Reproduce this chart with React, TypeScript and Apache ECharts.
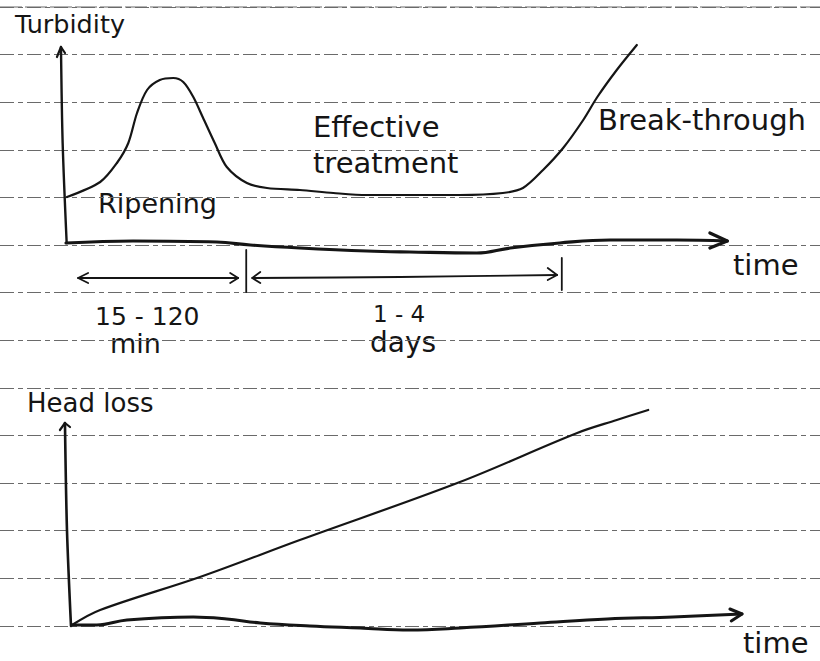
import React, { useEffect, useRef } from "react";
import * as echarts from "echarts";

// Ruled paper: printed lines are numbered 0..13 from the bottom one upward
const ruledLineFirst = 0;
const ruledLineLast = 13;

// --- Top sketch: turbidity vs time (relative time units, relative turbidity) ---
const turbidityTime = [0.15, 5.1, 7.6, 9.3, 10.6, 12.1, 14.0, 16.0, 17.5, 19.0, 20.4, 22.2, 24.0, 27.0, 30.0, 34.9, 39.9, 44.9, 51.3, 58.8, 65.2, 68.2, 71.2, 74.2, 77.2, 79.3, 82.2, 85.2];
const turbidityValue = [23, 30.5, 40, 50, 65, 76.5, 81.5, 82.5, 80.5, 73, 63, 50, 38, 30, 27.5, 26.5, 25, 24, 24, 24, 25, 27.5, 36.5, 47.5, 61.5, 73, 86.5, 99];

// hand-drawn axes of the top sketch
const turbidityAxisTime = [0, 10, 22.5, 27.5, 34.9, 44.9, 51.3, 61.3, 66.3, 73.7, 81.2, 91.2, 98.7];
const turbidityAxisValue = [0, 1, 0.5, -1, -2.5, -4, -4.5, -5, -2.5, 0, 1.5, 1.5, 1];
const turbidityYAxisTime = [0.1, -0.5, -0.75];
const turbidityYAxisValue = [0, 50, 98];
const turbidityYArrow = [[-1.35, 93], [-0.75, 98], [-0.15, 95]];
const turbidityXArrow = [[96.1, 5], [98.7, 1], [96.1, -2.5]];

// duration brackets under the top sketch
const ripeningSpan = [[1.8, -17.5], [25.7, -17.5]];
const ripeningLeftHead = [[3.3, -15], [1.8, -17.5], [3.3, -20]];
const ripeningRightHead = [[24.5, -15], [25.7, -17.5], [24.5, -20]];
const ripeningEndMark = [[26.9, -3.5], [26.9, -24.5]];
const treatmentSpan = [[27.8, -17.5], [49.9, -17], [73.3, -16]];
const treatmentLeftHead = [[29.0, -14.5], [27.8, -17.5], [29.0, -20]];
const treatmentRightHead = [[71.9, -12.5], [73.3, -16], [71.9, -18.5]];
const treatmentEndMark = [[74.0, -7.5], [74.0, -23.5]];

// --- Bottom sketch: head loss vs time ---
const headLossTime = [0, 4.2, 19.1, 34.0, 57.9, 75.4, 81.3, 86.0];
const headLossValue = [0, 7.5, 24, 42.5, 71.5, 96, 102.5, 107.5];
const headAxisTime = [0, 3.7, 8.2, 18.1, 23.1, 28.1, 35.5, 43.0, 50.4, 57.9, 69.9, 79.9, 89.7, 100];
const headAxisValue = [0, 0, 2.5, 4, 3, 1, -0.5, -1.5, -2.5, -1.5, 1, 3, 4, 5.5];
const headYAxisTime = [-0.15, -0.75, -1.05];
const headYAxisValue = [-0.5, 47.5, 101];
const headYArrow = [[-1.8, 97.5], [-1.05, 101], [-0.3, 99]];
const headXArrow = [[98.2, 8], [100, 5.5], [98.4, 2]];

// labels
const labelTurbidity = "Turbidity";
const labelRipening = "Ripening";
const labelEffective = "Effective";
const labelTreatment = "treatment";
const labelBreak = "Break-through";
const labelTime = "time";
const labelRipenRange = "15 - 120";
const labelRipenUnit = "min";
const labelRunRange = "1 - 4";
const labelRunUnit = "days";
const labelHeadLoss = "Head loss";

const ink = "#151515";
const paperInk = "#6a6a6a";
const paperDash = [14, 4, 5, 4];
const font = "DejaVu Sans";

const zip = (xs: number[], ys: number[]) => xs.map((x, i) => [x, ys[i]]);

function stroke(gridIdx: number, data: number[][], width: number, smooth: number | boolean) {
  return {
    type: "line",
    xAxisIndex: gridIdx,
    yAxisIndex: gridIdx,
    data,
    smooth,
    symbol: "none",
    silent: true,
    clip: false,
    lineStyle: { color: ink, width, cap: "round", join: "round" },
  };
}

function txt(text: string, x: number, y: number, size: number) {
  return {
    type: "text",
    x,
    y,
    silent: true,
    style: {
      text,
      fontSize: size,
      fontFamily: font,
      fill: ink,
      align: "left",
      verticalAlign: "middle",
    },
  };
}

const hidden = { show: false };
const ruleGap = 47.6; // px between printed lines

export default function App() {
  const ref = useRef<HTMLDivElement>(null);
  useEffect(() => {
    document.body.style.margin = "0";
    const chart = echarts.init(ref.current!, null, { renderer: "svg" });
    const option: any = {
      animation: false,
      backgroundColor: "#ffffff",
      grid: [
        // paper grid: one extra gap above and below so every printed line is an inner tick
        {
          left: 0,
          width: 820,
          top: 7 - ruleGap,
          height: ruleGap * (ruledLineLast - ruledLineFirst + 2),
          outerBoundsMode: "none",
          containLabel: false,
        },
        { left: 32.5, width: 703.5, top: 43, height: 260, outerBoundsMode: "none" },
        { left: 38.5, width: 716.9, top: 405, height: 240, outerBoundsMode: "none" },
      ],
      xAxis: [
        { type: "value", gridIndex: 0, min: 0, max: 1, show: false },
        { type: "value", gridIndex: 1, min: -5, max: 100, show: false },
        { type: "value", gridIndex: 2, min: -5, max: 102, show: false },
      ],
      yAxis: [
        {
          type: "value",
          gridIndex: 0,
          min: ruledLineFirst - 1,
          max: ruledLineLast + 1,
          interval: 1,
          axisLine: hidden,
          axisTick: hidden,
          axisLabel: hidden,
          splitLine: {
            show: true,
            showMinLine: true,
            showMaxLine: true,
            lineStyle: { color: paperInk, width: 1, type: paperDash },
          },
        },
        { type: "value", gridIndex: 1, min: -30, max: 100, show: false },
        { type: "value", gridIndex: 2, min: -10, max: 110, show: false },
      ],
      series: [
        // topmost printed line of the paper (drawn explicitly on the paper grid)
        {
          type: "line",
          xAxisIndex: 0,
          yAxisIndex: 0,
          data: [[0, ruledLineLast], [1, ruledLineLast]],
          symbol: "none",
          silent: true,
          clip: false,
          lineStyle: { color: paperInk, width: 1.2, type: [22, 3] },
        },
        stroke(1, zip(turbidityTime, turbidityValue), 2.2, 0.3),
        stroke(1, zip(turbidityAxisTime, turbidityAxisValue), 3.2, 0.4),
        stroke(1, zip(turbidityYAxisTime, turbidityYAxisValue), 2.4, 0.3),
        stroke(1, turbidityYArrow, 2.2, false),
        stroke(1, turbidityXArrow, 3.2, false),
        stroke(1, ripeningSpan, 1.8, false),
        stroke(1, ripeningLeftHead, 1.8, false),
        stroke(1, ripeningRightHead, 1.8, false),
        stroke(1, ripeningEndMark, 1.8, false),
        stroke(1, treatmentSpan, 1.8, 0.3),
        stroke(1, treatmentLeftHead, 1.8, false),
        stroke(1, treatmentRightHead, 1.8, false),
        stroke(1, treatmentEndMark, 1.8, false),
        stroke(2, zip(headLossTime, headLossValue), 2.2, 0.35),
        stroke(2, zip(headAxisTime, headAxisValue), 3.0, 0.4),
        stroke(2, zip(headYAxisTime, headYAxisValue), 2.6, 0.3),
        stroke(2, headYArrow, 2.2, false),
        stroke(2, headXArrow, 3.0, false),
      ],
      graphic: [
        txt(labelTurbidity, 15, 24, 25.5),
        txt(labelRipening, 98, 203, 27),
        txt(labelEffective, 313, 127, 29),
        txt(labelTreatment, 313, 163, 29),
        txt(labelBreak, 598, 120, 29),
        txt(labelTime, 733, 265, 29),
        txt(labelRipenRange, 95, 316, 25),
        txt(labelRipenUnit, 110, 343.5, 27),
        txt(labelRunRange, 373, 314, 23),
        txt(labelRunUnit, 370, 342, 28),
        txt(labelHeadLoss, 27, 403, 26),
        txt(labelTime, 743, 643, 29),
      ],
    };
    chart.setOption(option);
    return () => chart.dispose();
  }, []);
  return <div ref={ref} style={{ width: 820, height: 661, background: "#fff" }} />;
}
